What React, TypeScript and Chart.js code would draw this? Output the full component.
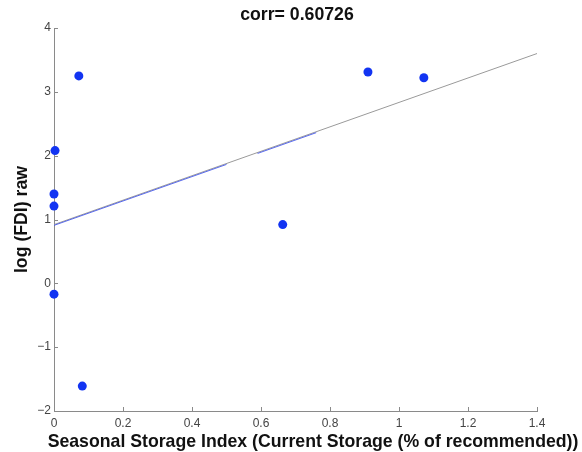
import React, { useEffect, useRef } from "react";
import { Chart, registerables } from "chart.js";

Chart.register(...registerables);

const storageIndex = [0.072, 0.003, 0.0, 0.0, 0.663, 0.0, 0.082, 0.91, 1.072];
const logFdi = [3.25, 2.08, 1.4, 1.21, 0.92, -0.17, -1.61, 3.31, 3.22];

const fitX = [0, 1.4];
const fitY = [0.92, 3.6];

const segX = [0, 0.5, 0.545, 0.59, 0.76];
const segY = [0.908, 1.863, null, 2.035, 2.36];

const xTicks = [0, 0.2, 0.4, 0.6, 0.8, 1, 1.2, 1.4];
const yTicks = [-2, -1, 0, 1, 2, 3, 4];

const titleText = "corr= 0.60726";
const xTitle = "Seasonal Storage Index (Current Storage (% of recommended))";
const yTitle = "log (FDI) raw";

const FONT = '"Liberation Sans", Arial, Helvetica, sans-serif';

const overlayPlugin = {
  id: "overlay",
  afterDraw(chart: any) {
    const ctx = chart.ctx;
    const area = chart.chartArea;
    const xs = chart.scales.x;
    const ys = chart.scales.y;
    ctx.save();
    ctx.strokeStyle = "#8a8a8a";
    ctx.lineWidth = 1;
    ctx.beginPath();
    xTicks.forEach((v) => {
      const px = Math.round(xs.getPixelForValue(v)) + 0.5;
      ctx.moveTo(px, area.bottom);
      ctx.lineTo(px, area.bottom - 4);
    });
    yTicks.forEach((v) => {
      const py = Math.round(ys.getPixelForValue(v)) + 0.5;
      ctx.moveTo(area.left, py);
      ctx.lineTo(area.left + 4, py);
    });
    ctx.stroke();
    ctx.fillStyle = "#111";
    ctx.font = `bold 17.7px ${FONT}`;
    ctx.textAlign = "center";
    ctx.textBaseline = "alphabetic";
    ctx.fillText(titleText, 297, 19.5);
    ctx.fillText(xTitle, 313, 446.5);
    ctx.translate(27, (area.top + area.bottom) / 2);
    ctx.rotate(-Math.PI / 2);
    ctx.fillText(yTitle, 0, 0);
    ctx.restore();
  },
};

export default function App() {
  const ref = useRef<HTMLCanvasElement>(null);
  useEffect(() => {
    if (!ref.current) return;
    const chart = new Chart(ref.current, {
      type: "scatter",
      data: {
        datasets: [
          {
            type: "scatter",
            data: storageIndex.map((x, i) => ({ x, y: logFdi[i] })),
            backgroundColor: "#1234f2",
            borderColor: "#1234f2",
            pointRadius: 4.5,
            pointHoverRadius: 4.5,
            borderWidth: 0,
            clip: false,
            order: 0,
          } as any,
          {
            type: "line",
            data: segX.map((x, i) => ({ x, y: segY[i] })),
            borderColor: "rgba(60,80,235,0.85)",
            borderWidth: 1,
            pointRadius: 0,
            spanGaps: false,
            fill: false,
            order: 1,
          } as any,
          {
            type: "line",
            data: fitX.map((x, i) => ({ x, y: fitY[i] })),
            borderColor: "#9a9a9a",
            borderWidth: 1,
            pointRadius: 0,
            fill: false,
            order: 2,
          } as any,
        ],
      },
      options: {
        animation: false,
        responsive: false,
        events: [],
        layout: { padding: { top: 28, right: 45, left: 0, bottom: 0 } },
        plugins: {
          legend: { display: false },
          title: { display: false },
          tooltip: { enabled: false },
        },
        scales: {
          x: {
            type: "linear",
            min: 0,
            max: 1.4,
            afterFit: (s: any) => {
              s.height = 41;
            },
            afterBuildTicks: (s: any) => {
              s.ticks = xTicks.map((v) => ({ value: v }));
            },
            grid: { display: false, drawTicks: false },
            border: { display: true, color: "#8a8a8a", width: 1 },
            ticks: {
              padding: 5,
              color: "#444",
              font: { family: FONT, size: 12 },
              maxRotation: 0,
              autoSkip: false,
              callback: (v: any) => String(Math.round(Number(v) * 10) / 10),
            },
          },
          y: {
            type: "linear",
            min: -2,
            max: 4,
            afterFit: (s: any) => {
              s.width = 54;
            },
            afterBuildTicks: (s: any) => {
              s.ticks = yTicks.map((v) => ({ value: v }));
            },
            grid: { display: false, drawTicks: false },
            border: { display: true, color: "#8a8a8a", width: 1 },
            ticks: {
              padding: 3,
              color: "#444",
              font: { family: FONT, size: 12 },
              autoSkip: false,
              callback: (v: any) => String(v).replace("-", "\u2212"),
            },
          },
        },
      },
      plugins: [overlayPlugin],
    });
    return () => chart.destroy();
  }, []);
  return (
    <div style={{ position: "absolute", left: 0, top: 0, width: 582, height: 452, background: "#fff" }}>
      <canvas ref={ref} width={582} height={452} style={{ width: 582, height: 452, display: "block" }} />
    </div>
  );
}
